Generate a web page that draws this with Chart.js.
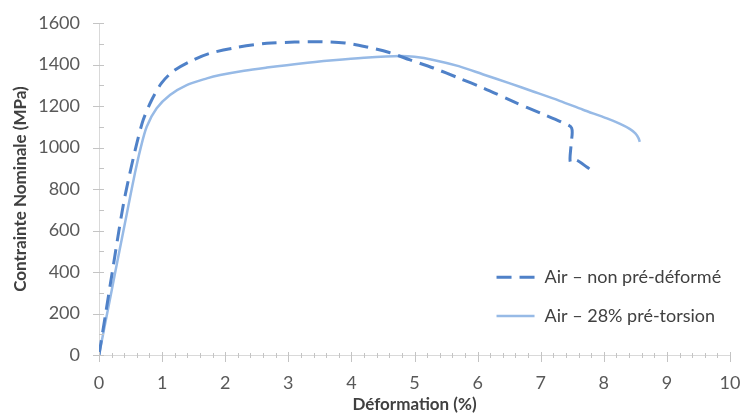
<!DOCTYPE html>
<html lang="fr">
<head>
<meta charset="utf-8">
<title>Contrainte - Déformation</title>
<script src="https://cdn.jsdelivr.net/npm/chart.js@4.4.1/dist/chart.umd.min.js"></script>
<style>
  html, body { margin: 0; padding: 0; background: #fff; overflow: hidden; }
  #wrap { width: 745px; height: 415px; position: relative; }
  #mainChart { display: block; }
</style>
</head>
<body>
<div id="wrap"><canvas id="mainChart"></canvas></div>
<script>
// Données
const labelNonDeforme = 'Air – non pré-déformé';
const labelTorsion = 'Air – 28% pré-torsion';

const strainNonDeforme = [0, 0.1, 0.2, 0.3, 0.36, 0.41, 0.49, 0.6, 0.7, 0.835, 0.99, 1.17, 1.44, 1.76, 2.2, 2.66, 3.1, 3.5, 3.9, 4.25, 4.6, 4.93, 5.3, 5.7, 6.09, 6.56, 7.0, 7.33, 7.49, 7.48, 7.47, 7.56, 7.73, 7.86];
const stressNonDeforme = [0, 190, 380, 570, 680, 763, 877, 1021, 1132, 1229, 1310, 1366, 1414, 1454, 1483, 1502, 1508, 1510, 1504, 1484, 1458, 1422, 1383, 1335, 1287, 1222, 1165, 1122, 1094, 1010, 930, 940, 906, 877];

const strainTorsion = [0, 0.1, 0.2, 0.3, 0.44, 0.49, 0.57, 0.65, 0.756, 0.914, 1.125, 1.39, 1.71, 1.92, 2.3, 2.66, 3.2, 3.71, 4.2, 4.77, 5.0, 5.3, 5.7, 6.09, 6.5, 6.88, 7.3, 7.67, 8.05, 8.25, 8.41, 8.5, 8.55, 8.57];
const stressTorsion = [0, 155, 310, 465, 680, 757, 877, 985, 1100, 1189, 1253, 1301, 1333, 1349, 1370, 1385, 1405, 1420, 1432, 1441, 1437, 1422, 1392, 1352, 1310, 1270, 1225, 1182, 1140, 1115, 1090, 1068, 1045, 1027];

const xTicks = [0, 1, 2, 3, 4, 5, 6, 7, 8, 9, 10];
const yTicks = [0, 200, 400, 600, 800, 1000, 1200, 1400, 1600];

const FONT = 'Lato, "Open Sans", sans-serif';
const AXIS_COLOR = '#d9d9d9';
const TICK_COLOR = '#c4c4c4';
const TEXT_COLOR = '#595959';

function toPoints(xs, ys) {
    return xs.map((x, i) => ({ x: x, y: ys[i] }));
}

// Graduations majeures / mineures façon Excel
const axisTicksPlugin = {
    id: 'axisTicks',
    afterDraw(chart) {
        const { ctx, scales: { x, y } } = chart;
        const x0 = x.getPixelForValue(0);
        const y0 = y.getPixelForValue(0);
        ctx.save();
        ctx.strokeStyle = TICK_COLOR;
        ctx.lineWidth = 1;
        ctx.beginPath();
        // axe Y : majeures tous les 200, mineures tous les 100
        for (let v = 0; v <= 1600; v += 100) {
            const py = Math.round(y.getPixelForValue(v)) + 0.5;
            const major = v % 200 === 0;
            ctx.moveTo(x0 - (major ? 6 : 0), py);
            ctx.lineTo(x0 + 5, py);
        }
        // axe X : majeures tous les 1, mineures tous les 0.2
        for (let i = 0; i <= 50; i++) {
            const px = Math.round(x.getPixelForValue(i / 5)) + 0.5;
            const major = i % 5 === 0;
            ctx.moveTo(px, y0 - (major ? 3 : 2));
            ctx.lineTo(px, y0 + (major ? 7 : 3));
        }
        ctx.stroke();
        ctx.restore();
    }
};

// Légende dans la zone de tracé, en bas à droite
const insideLegendPlugin = {
    id: 'insideLegend',
    afterDraw(chart) {
        const ctx = chart.ctx;
        const x = chart.scales.x;
        const y = chart.scales.y;
        const lineX = x.getPixelForValue(6.3);
        const rows = [y.getPixelForValue(375), y.getPixelForValue(188)];
        ctx.save();
        chart.data.datasets.forEach((ds, i) => {
            const py = rows[i];
            ctx.strokeStyle = ds.borderColor;
            ctx.lineWidth = ds.borderWidth;
            ctx.setLineDash(ds.borderDash || []);
            ctx.beginPath();
            ctx.moveTo(lineX, py);
            ctx.lineTo(lineX + 38, py);
            ctx.stroke();
            ctx.setLineDash([]);
            ctx.fillStyle = '#404040';
            ctx.font = '18px ' + FONT;
            ctx.textBaseline = 'middle';
            ctx.fillText(ds.label, lineX + 48, py);
        });
        ctx.restore();
    }
};

function renderChart() {
    const ctx = document.getElementById('mainChart');

    const data = {
        datasets: [
            {
                label: labelNonDeforme,
                data: toPoints(strainNonDeforme, stressNonDeforme),
                borderColor: '#4f81c8',
                borderWidth: 3,
                borderDash: [15, 8],
                tension: 0.3,
                pointRadius: 0,
                showLine: true
            },
            {
                label: labelTorsion,
                data: toPoints(strainTorsion, stressTorsion),
                borderColor: '#97bae6',
                borderWidth: 2.5,
                tension: 0.3,
                pointRadius: 0,
                showLine: true
            }
        ]
    };

    const options = {
        responsive: true,
        maintainAspectRatio: false,
        animation: false,
        layout: { padding: { top: 23, right: 15, bottom: 0, left: 0 } },
        plugins: {
            legend: { display: false },
            tooltip: { enabled: false }
        },
        scales: {
            x: {
                type: 'linear',
                min: 0,
                max: 10,
                afterFit(scale) {
                    scale.height = 60;
                    scale.paddingLeft = 0;
                    scale.paddingRight = 0;
                },
                afterBuildTicks(scale) { scale.ticks = xTicks.map(v => ({ value: v })); },
                grid: { display: false, drawTicks: false },
                border: { display: true, color: AXIS_COLOR, width: 1 },
                ticks: {
                    padding: 17,
                    color: TEXT_COLOR,
                    font: { family: FONT, size: 18 },
                    maxRotation: 0,
                    autoSkip: false,
                    callback: value => String(value)
                },
                title: {
                    display: true,
                    text: 'Déformation (%)',
                    color: '#404040',
                    font: { family: FONT, size: 17, weight: 'bold' },
                    padding: { top: 0, bottom: 0 }
                }
            },
            y: {
                min: 0,
                max: 1600,
                afterFit(scale) {
                    scale.width = 99;
                    scale.paddingTop = 0;
                    scale.paddingBottom = 0;
                },
                afterBuildTicks(scale) { scale.ticks = yTicks.map(v => ({ value: v })); },
                grid: { display: false, drawTicks: false },
                border: { display: true, color: AXIS_COLOR, width: 1 },
                ticks: {
                    padding: 19,
                    color: TEXT_COLOR,
                    font: { family: FONT, size: 18 },
                    autoSkip: false,
                    callback: value => String(value)
                },
                title: {
                    display: true,
                    text: 'Contrainte Nominale (MPa)',
                    color: '#404040',
                    font: { family: FONT, size: 17, weight: 'bold' },
                    padding: { top: 10, bottom: 0 }
                }
            }
        }
    };

    new Chart(ctx, {
        type: 'scatter',
        data: data,
        options: options,
        plugins: [axisTicksPlugin, insideLegendPlugin]
    });
}

renderChart();
</script>
</body>
</html>
